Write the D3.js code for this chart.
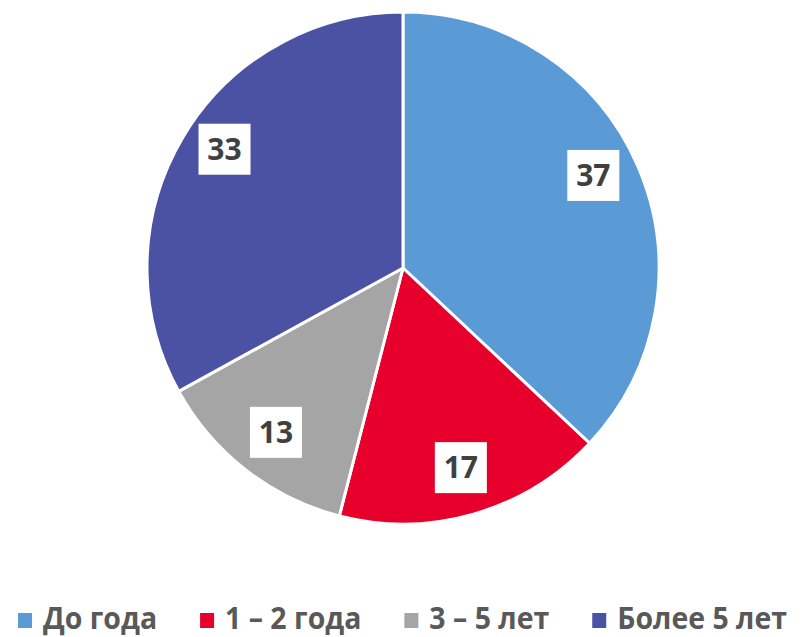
<!DOCTYPE html>
<html>
<head>
<meta charset="utf-8">
<script src="https://cdn.jsdelivr.net/npm/d3@7"></script>
<style>
  html, body { margin: 0; padding: 0; background: #fff; overflow: hidden; }
</style>
</head>
<body>
<svg width="806" height="637"></svg>
<script>
// data
var categories = ["До года", "1 – 2 года", "3 – 5 лет", "Более 5 лет"];
var values = [37, 17, 13, 33];
var colors = ["#5B9BD5", "#E8002D", "#A5A5A5", "#4B52A3"];

var svg = d3.select("svg"),
    cx = 403, cy = 268, r = 256;

var pie = d3.pie().sort(null).value(function(d){ return d; });
var arcs = pie(values);

var arc = d3.arc().innerRadius(0).outerRadius(r);
var labelArc = d3.arc().innerRadius(r * 0.81).outerRadius(r * 0.81);

var g = svg.append("g").attr("transform", "translate(" + cx + "," + cy + ")");

g.selectAll("path")
  .data(arcs)
  .enter().append("path")
    .attr("d", arc)
    .attr("fill", function(d, i){ return colors[i]; })
    .attr("stroke", "#fff")
    .attr("stroke-width", 3)
    .attr("stroke-linejoin", "round");

// value labels in white boxes
var lab = g.selectAll("g.lab")
  .data(arcs)
  .enter().append("g")
    .attr("class", "lab")
    .attr("transform", function(d){
      var c = labelArc.centroid(d);
      // labels in the upper half sit a little higher in the original
      var y = c[1] < 0 ? c[1] * 1.13 : c[1];
      return "translate(" + c[0] + "," + y + ")";
    });

lab.append("rect")
  .attr("x", -26).attr("y", -25)
  .attr("width", 52).attr("height", 51)
  .attr("fill", "#fff");

lab.append("text")
  .attr("text-anchor", "middle")
  .attr("dy", "0.36em")
  .attr("font-family", "'Open Sans', sans-serif")
  .attr("font-weight", "bold")
  .attr("font-size", 30)
  .attr("fill", "#404040")
  .text(function(d){ return d.data; });

// legend along the bottom
var legend = svg.append("g").attr("class", "legend");
var items = legend.selectAll("g")
  .data(categories)
  .enter().append("g");

items.append("rect")
  .attr("width", 14).attr("height", 15)
  .attr("y", -16)
  .attr("fill", function(d, i){ return colors[i]; });

var texts = items.append("text")
  .attr("x", 25)
  .attr("font-family", "'Open Sans', sans-serif")
  .attr("font-weight", "bold")
  .attr("font-size", 30)
  .attr("fill", "#595959")
  .text(function(d){ return d; });

// the original uses a condensed font, so squeeze ours to the same overall width
var natural = [];
texts.each(function(){ natural.push(this.getComputedTextLength()); });
var squeeze = 540 / d3.sum(natural), gap = 43, widths = [];
texts.each(function(d, i){
  var w = natural[i] * squeeze;
  d3.select(this).attr("textLength", w).attr("lengthAdjust", "spacingAndGlyphs");
  widths.push(25 + w);
});
items.attr("transform", function(d, i){
  var x = 18 + d3.sum(widths.slice(0, i)) + gap * i;
  return "translate(" + x + ",629)";
});
</script>
</body>
</html>
